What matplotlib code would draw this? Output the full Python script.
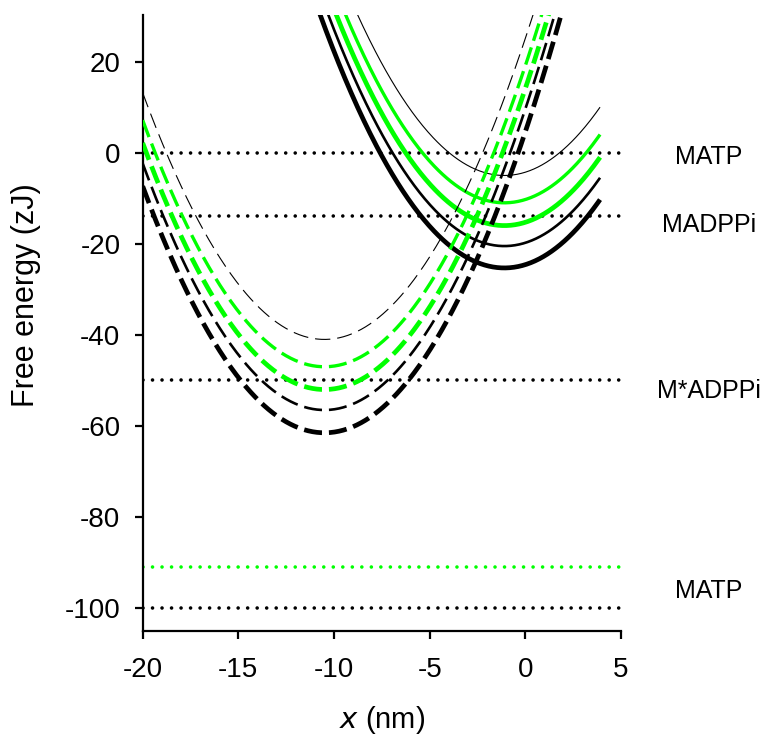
import numpy as np
import matplotlib
matplotlib.use('Agg')
import matplotlib.pyplot as plt

plt.rcParams['font.family'] = ['Liberation Sans', 'DejaVu Sans']
plt.rcParams['lines.scale_dashes'] = False
plt.rcParams['axes.unicode_minus'] = False

# free-energy parabolas G = G0 + 0.5*k*(x - x0)^2
k_spring = 1.2                 # zJ/nm^2, same for every curve
x0_dash = -10.5                # nm, M*ADPPi well
x0_solid = -1.1                # nm, MADPPi well
g0_dash = [-41, -47, -52, -56.5, -61.5]
g0_solid = [-5, -11, -16, -20.5, -25.3]
curve_colors = ['black', '#00ff00', '#00ff00', 'black', 'black']
curve_widths = [0.8, 2.4, 3.4, 1.9, 3.4]

# state levels (dotted lines) and their labels
level_y = [0, -14, -50, -100]
level_green = -91
state_labels = ['MATP', 'MADPPi', 'M*ADPPi', 'MATP']
label_y = [-2.5, -17.3, -53.8, -97.8]

xticks = [-20, -15, -10, -5, 0, 5]
yticks = [-100, -80, -60, -40, -20, 0, 20]

fig = plt.figure(figsize=(7.63, 7.37), dpi=100)
ax = fig.add_axes([0.187, 0.144, 0.627, 0.836])

dot = (0.01, 6.84)
for y in level_y:
    ax.plot([-20, 5], [y, y], color='black', lw=2.6, dashes=dot,
            dash_capstyle='round', zorder=1)
ax.plot([-20, 5], [level_green, level_green], color='#00ff00', lw=2.6,
        dashes=dot, dash_capstyle='round', zorder=1)

xs = np.linspace(-12.5, 3.9, 300)
for g0, c, w in zip(g0_solid, curve_colors, curve_widths):
    ax.plot(xs, g0 + 0.5 * k_spring * (xs - x0_solid) ** 2, color=c, lw=w,
            solid_capstyle='butt', zorder=2)

xd = np.linspace(-20, 3, 400)
for g0, c, w in zip(g0_dash, curve_colors, curve_widths):
    dd = (11, 5) if w < 1.5 else (13, 5)
    ax.plot(xd, g0 + 0.5 * k_spring * (xd - x0_dash) ** 2, color=c, lw=w,
            dashes=dd, dash_capstyle='butt', zorder=3)

for s, y in zip(state_labels, label_y):
    ax.text(9.6, y, s, ha='center', va='baseline', fontsize=18,
            clip_on=False)

ax.set_xlim(-20, 5)
ax.set_ylim(-105, 30.3)
ax.set_xticks(xticks)
ax.set_yticks(yticks)
ax.spines['top'].set_visible(False)
ax.spines['right'].set_visible(False)
ax.spines['left'].set_linewidth(1.6)
ax.spines['bottom'].set_linewidth(1.6)
ax.tick_params(direction='out', length=6, width=1.6, labelsize=20)
ax.tick_params(axis='y', pad=10)
ax.tick_params(axis='x', pad=13)
ax.set_xlabel('$\\it{x}$ (nm)', fontsize=21)
ax.set_ylabel('Free energy (zJ)', fontsize=22)
ax.xaxis.set_label_coords(0.5, -0.118)
ax.yaxis.set_label_coords(-0.212, 0.545)

fig.savefig('out.png', dpi=100)
